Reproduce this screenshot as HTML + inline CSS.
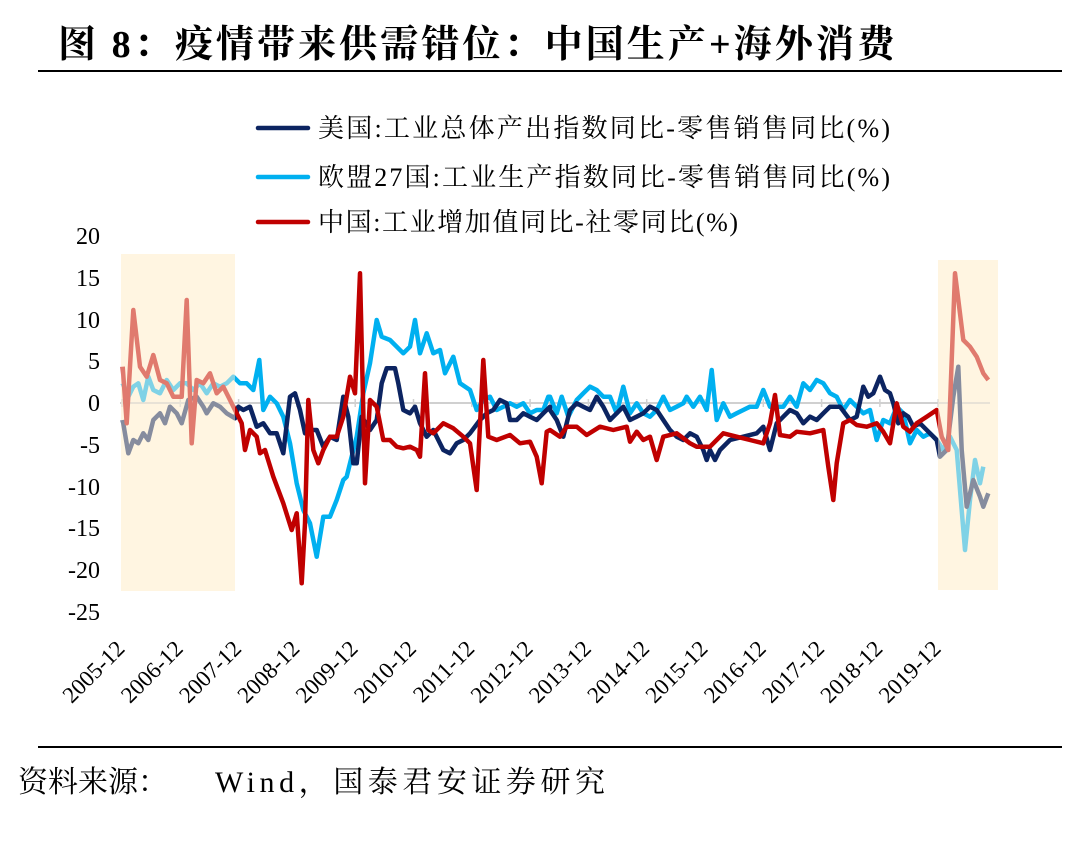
<!DOCTYPE html>
<html><head><meta charset="utf-8"><style>
body{margin:0;background:#fff;width:1080px;height:837px;overflow:hidden;font-family:"Liberation Serif","Noto Serif CJK SC",serif;}
</style></head><body>
<svg width="1080" height="837" xmlns="http://www.w3.org/2000/svg" font-family="'Liberation Serif','Noto Serif CJK SC',serif">
<text x="58" y="57" font-size="38" font-weight="bold" fill="#000" textLength="837">图 8：疫情带来供需错位：中国生产+海外消费</text>
<line x1="38" y1="71" x2="1062" y2="71" stroke="#000" stroke-width="2"/>
<line x1="38" y1="747" x2="1062" y2="747" stroke="#000" stroke-width="2"/>
<text x="18" y="792" font-size="30" fill="#000">资料来源：</text>
<text x="215" y="792" font-size="30" fill="#000" textLength="390">Wind，国泰君安证券研究</text>
<rect x="121" y="254" width="114" height="337" fill="#fff7e6"/>
<rect x="938" y="260" width="60" height="330" fill="#fff7e6"/>
<g stroke-width="4.5" stroke-linecap="round">
<line x1="258" y1="128" x2="308" y2="128" stroke="#0c2461"/>
<line x1="258" y1="177" x2="308" y2="177" stroke="#00b0f0"/>
<line x1="258" y1="222" x2="308" y2="222" stroke="#c00000"/>
</g>
<g font-size="26" fill="#000">
<text x="318" y="137" textLength="572">美国:工业总体产出指数同比-零售销售同比(%)</text>
<text x="318" y="186" textLength="572">欧盟27国:工业生产指数同比-零售销售同比(%)</text>
<text x="318" y="231" textLength="420">中国:工业增加值同比-社零同比(%)</text>
</g>
<g font-size="24" fill="#000" text-anchor="end">
<text x="100" y="244">20</text><text x="100" y="286">15</text><text x="100" y="328">10</text>
<text x="100" y="369">5</text><text x="100" y="411">0</text><text x="100" y="453">-5</text>
<text x="100" y="495">-10</text><text x="100" y="536">-15</text><text x="100" y="578">-20</text><text x="100" y="620">-25</text>
</g>
<line x1="120" y1="403" x2="990" y2="403" stroke="#d0d0d0" stroke-width="2"/>
<g id="ticks" stroke="#d0d0d0" stroke-width="1.5"></g>
<g id="xl" font-size="23" fill="#000" text-anchor="end"></g>
<g id="lines" fill="none" stroke-width="4.5" stroke-linejoin="round"></g>
<rect x="121" y="254" width="114" height="337" fill="#fff3dc" opacity="0.5"/>
<rect x="938" y="260" width="60" height="330" fill="#fff3dc" opacity="0.5"/>
</svg>
<script>
var ns="http://www.w3.org/2000/svg";
var xl=document.getElementById('xl'),tk=document.getElementById('ticks');
for(var i=0;i<15;i++){var x=122+58.3*i;
var t=document.createElementNS(ns,'text');t.setAttribute('transform','translate('+(x+4)+',650) rotate(-45)');t.textContent=(2005+i)+'-12';xl.appendChild(t);
var l=document.createElementNS(ns,'line');l.setAttribute('x1',x);l.setAttribute('x2',x);l.setAttribute('y1',399);l.setAttribute('y2',407);tk.appendChild(l);}
function P(a,b){var s=[];for(var i=0;i<a.length;i+=2)s.push((110+a[i]/3).toFixed(1)+','+(250+a[i+1]/3).toFixed(1));for(var i=0;i<b.length;i+=2)s.push((550+b[i]/3).toFixed(1)+','+(250+b[i+1]/3).toFixed(1));return s.join(' ');}
var red=P([38,350,50,520,70,180,90,350,110,380,130,315,150,390,170,400,190,440,215,440,230,150,245,580,260,390,280,400,300,370,320,430,340,410,360,450,375,480,395,520,405,600,420,540,440,560,450,610,465,600,490,680,520,760,545,840,560,790,575,1000,585,820,595,450,610,600,625,640,640,600,660,560,680,560,700,500,720,380,735,430,750,70,765,700,780,450,800,470,820,570,840,570,860,590,880,595,900,590,920,600,930,620,945,370,955,540,970,550,1000,520,1030,535,1060,560,1080,580,1100,720,1120,330,1135,560,1160,570,1200,555,1230,580,1260,575,1280,620,1295,700,1310,545,1320,540],
[0,540,30,560,50,530,80,530,110,555,150,530,190,540,230,530,240,575,260,545,280,570,300,560,320,630,340,560,380,550,420,580,440,590,480,590,520,550,560,560,600,570,640,580,660,520,675,435,690,555,720,560,740,545,780,550,800,545,820,540,835,650,850,750,860,640,880,520,900,510,920,525,950,530,980,520,1000,545,1020,580,1040,460,1060,530,1080,545,1100,520,1130,500,1160,480,1175,560,1195,600,1215,70,1240,270,1260,290,1280,320,1300,370,1315,390]);
var navy=P([38,510,55,610,70,570,85,580,100,550,115,570,130,510,150,490,165,520,180,470,200,490,215,520,235,450,260,440,280,470,290,490,310,460,330,470,350,490,375,505,385,470,400,480,420,470,440,530,460,520,480,550,500,550,520,610,540,440,555,430,570,480,585,550,600,540,620,540,640,590,660,560,680,570,700,440,715,500,730,640,740,640,755,500,780,540,800,510,815,400,830,355,855,355,865,400,880,480,900,490,915,470,930,520,950,560,970,540,1000,600,1020,610,1040,580,1060,570,1080,550,1110,510,1130,490,1150,480,1170,450,1190,460,1200,510,1220,510,1240,490,1260,500,1280,510,1300,490,1320,470],
[0,480,20,510,40,560,60,480,80,460,100,470,120,480,140,440,160,470,180,510,200,490,220,470,240,510,260,500,280,490,300,470,320,480,340,510,360,540,380,560,400,570,420,550,440,560,460,600,470,630,480,600,495,630,510,600,540,570,580,560,620,550,640,530,660,600,680,520,700,500,720,480,740,490,760,520,780,500,800,510,820,490,840,470,870,470,900,510,920,500,940,410,955,440,970,430,990,380,1005,420,1020,430,1030,460,1045,520,1060,490,1075,500,1090,530,1110,520,1140,550,1160,570,1170,620,1190,600,1210,440,1225,350,1235,600,1250,770,1270,690,1290,740,1300,770,1315,730]);
var eu=P([38,400,55,440,70,410,85,400,100,450,115,380,130,420,150,430,170,390,190,420,210,400,230,400,250,420,270,400,290,430,310,400,330,410,350,400,370,380,390,400,410,400,430,420,448,330,460,480,480,440,500,460,520,500,540,580,560,700,580,780,600,820,620,920,640,800,660,800,680,750,700,690,710,680,720,640,740,560,760,430,780,340,800,210,815,260,840,270,860,290,880,310,900,290,915,210,930,310,950,250,970,310,990,300,1005,370,1030,320,1050,400,1080,420,1100,480,1120,450,1140,440,1160,480,1180,470,1200,460,1220,470,1240,460,1260,490,1280,480,1300,480,1315,440],
[0,440,20,490,35,440,55,500,80,450,100,430,120,410,140,420,160,440,180,440,200,490,220,410,240,490,260,460,280,490,300,500,320,480,340,440,360,480,380,470,400,460,410,440,430,470,450,440,470,480,485,360,500,510,520,460,540,500,560,490,580,480,600,470,620,470,640,420,660,470,680,470,700,470,720,440,740,470,760,400,780,420,800,390,820,400,840,430,860,440,880,480,900,450,920,470,940,490,960,480,980,570,1000,510,1020,520,1040,470,1060,490,1080,580,1100,540,1120,560,1140,550,1160,570,1180,600,1200,560,1220,600,1245,900,1260,750,1275,630,1290,700,1300,650]);
var g=document.getElementById('lines');
[[eu,'#00b0f0'],[navy,'#0c2461'],[red,'#c00000']].forEach(function(d){var p=document.createElementNS(ns,'polyline');p.setAttribute('points',d[0]);p.setAttribute('stroke',d[1]);g.appendChild(p);});
</script>
</body></html>
